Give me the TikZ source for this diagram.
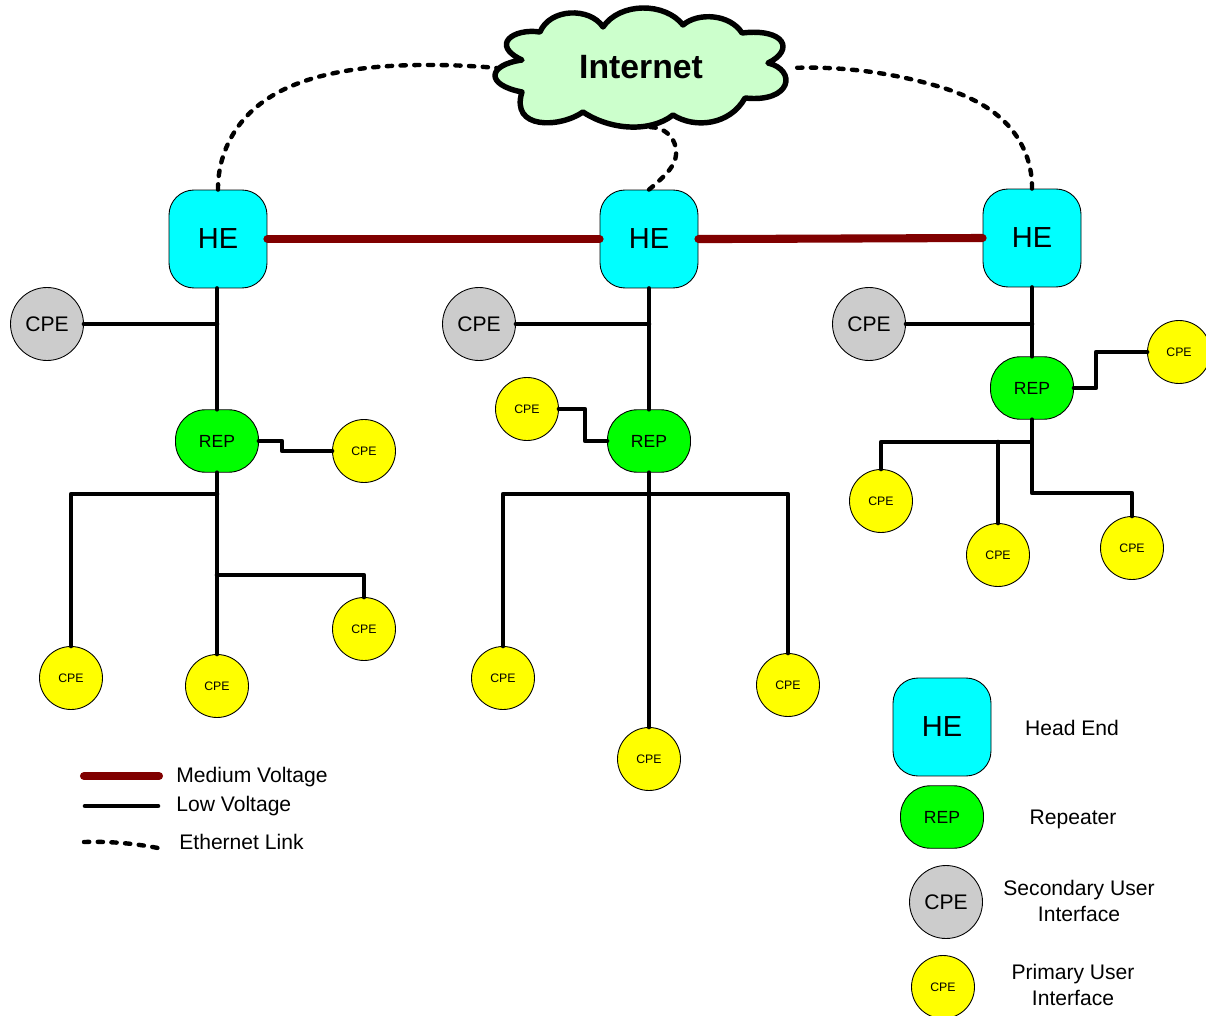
\documentclass[tikz,border=0pt]{standalone}
\usepackage{fontspec}
\setmainfont{Liberation Sans}
\usetikzlibrary{calc,positioning,hobby}

\definecolor{mvred}{HTML}{800000}
\definecolor{cloudgreen}{HTML}{CCFFCC}
\definecolor{hecyan}{HTML}{00FFFF}
\definecolor{repgreen}{HTML}{00FF00}
\definecolor{cpeyellow}{HTML}{FFFF00}
\definecolor{cpegrey}{HTML}{CCCCCC}
\tikzset{
  henode/.style={draw=black,line width=0.5pt,fill=hecyan,rounded corners=0.5cm,minimum size=1.96cm,inner sep=0,font=\fontsize{16.5}{18}\selectfont},
  repnode/.style={draw=black,line width=0.5pt,fill=repgreen,rounded corners=0.6cm,minimum width=1.66cm,minimum height=1.25cm,inner sep=0,font=\fontsize{10}{12}\selectfont},
  greycpe/.style={draw=black,line width=0.5pt,fill=cpegrey,circle,minimum size=1.46cm,inner sep=0,font=\fontsize{12}{14}\selectfont},
  yellowcpe/.style={draw=black,line width=0.5pt,fill=cpeyellow,circle,minimum size=1.26cm,inner sep=0,font=\fontsize{7}{9}\selectfont},
  mvline/.style={draw=mvred,line width=4.6pt,line cap=round},
  lvline/.style={draw=black,line width=2.6pt,line cap=round,line join=round},
  ethlink/.style={draw=black,line width=2.5pt,line cap=round,dash pattern=on 3pt off 4.8pt},
  legendtext/.style={font=\fontsize{12}{14.5}\selectfont,align=center,inner sep=0},
}

\begin{document}
\begin{tikzpicture}[x=0.02cm,y=-0.02cm,use Hobby shortcut]

\useasboundingbox (0,0) rectangle (1206,1016);

% the cloud
\draw[black,line width=3.1pt,line join=round,fill=cloudgreen]
  (540,32) .. controls (550,8) and (590,7) .. (603,27)
  .. controls (620,2) and (665,2) .. (683,25)
  .. controls (698,12) and (730,14) .. (742,33)
  .. controls (785,28) and (795,50) .. (768,63)
  .. controls (797,70) and (792,103) .. (745,98)
  .. controls (730,125) and (695,129) .. (673,115)
  .. controls (650,133) and (610,130) .. (583,112)
  .. controls (560,128) and (510,130) .. (522,92)
  .. controls (485,85) and (487,65) .. (522,60)
  .. controls (490,45) and (513,28) .. (540,32) -- cycle;
\node[font=\fontsize{19.2}{24}\selectfont\bfseries] (internet) at (641,67) {Internet};

\node[henode] (he1) at (218,239) {HE};
\node[henode] (he2) at (649,239) {HE};
\node[henode] (he3) at (1032,238) {HE};

\node[greycpe] (gr1) at (47,324) {CPE};
\node[greycpe] (gr2) at (479,324) {CPE};
\node[greycpe] (gr3) at (869,324) {CPE};

\node[repnode] (rep1) at (217,441) {REP};
\node[repnode] (rep2) at (649,441) {REP};
\node[repnode] (rep3) at (1032,388) {REP};

\node[yellowcpe] (a0) at (364,451) {CPE};
\node[yellowcpe] (a1) at (71,678) {CPE};
\node[yellowcpe] (a2) at (217,686) {CPE};
\node[yellowcpe] (a3) at (364,629) {CPE};

\node[yellowcpe] (b0) at (527,409) {CPE};
\node[yellowcpe] (b1) at (503,678) {CPE};
\node[yellowcpe] (b2) at (649,759) {CPE};
\node[yellowcpe] (b3) at (788,685) {CPE};

\node[yellowcpe] (c0) at (1179,352) {CPE};
\node[yellowcpe] (c1) at (881,501) {CPE};
\node[yellowcpe] (c2) at (998,555) {CPE};
\node[yellowcpe] (c3) at (1132,548) {CPE};

\path
  (497,68) coordinate (e0)
  (790,68) coordinate (e1)
  (645,128) coordinate (e2)
  (420,65) coordinate (l0)
  (330,74) coordinate (l1)
  (245,118) coordinate (l2)
  (930,84) coordinate (r1)
  (1012,130) coordinate (r2)
  (662,178) coordinate (m0)
  (676,155) coordinate (m1);
\draw[ethlink] (he1.north) .. (l2) .. (l1) .. (l0) .. (e0);
\draw[ethlink] (he3.north) .. (r2) .. (r1) .. (e1);
\draw[ethlink] (he2.north) .. (m0) .. (m1) .. (e2);

\draw[mvline] (he1.east) -- (he2.west);
\draw[mvline] (he2.east) -- ++(24,0) -- (he3.west);

\draw[lvline] (he1.south -| rep1.north) -- (rep1.north);
\draw[lvline] (he2.south) -- (rep2.north);
\draw[lvline] (he3.south) -- (rep3.north);
\draw[lvline] (gr1.east) -- (gr1.east -| rep1);
\draw[lvline] (gr2.east) -- (gr2.east -| he2);
\draw[lvline] (gr3.east) -- (gr3.east -| he3);

\draw[lvline] (rep1.east) -- (282,441) -- (282,451) -- (a0.west);
\draw[lvline] (rep1.south) -- (a2.north);
\draw[lvline] (217,494) -- (71,494) -- (a1.north);
\draw[lvline] (217,575) -- (364,575) -- (a3.north);

\draw[lvline] (b0.east) -- (585,409) -- (585,441) -- (rep2.west);
\draw[lvline] (rep2.south) -- (b2.north);
\draw[lvline] (b1.north) -- (503,494) -- (788,494) -- (b3.north);

\draw[lvline] (rep3.east) -- (1096,388) -- (1096,352) -- (c0.west);
\draw[lvline] (rep3.south) -- (1032,442) -- (881,442) -- (c1.north);
\draw[lvline] (998,442) -- (c2.north);
\draw[lvline] (1032,442) -- (1032,493) -- (1132,493) -- (c3.north);

% legend on the left
\path
  (84,776) coordinate (k0)
  (159,776) coordinate (k1)
  (85,806) coordinate (k2)
  (158,806) coordinate (k3)
  (84,842) coordinate (k4)
  (122,843) coordinate (k5)
  (158,848) coordinate (k6);
\draw[mvline] (k0) -- (k1);
\draw[lvline] (k2) -- (k3);
\draw[ethlink] (k4) .. (k5) .. (k6);
\node[legendtext,anchor=west] (t1) at (176,777) {Medium Voltage};
\node[legendtext,anchor=west] (t2) at (176,806) {Low Voltage};
\node[legendtext,anchor=west] (t3) at (179,842) {Ethernet Link};

% legend on the right
\node[henode] (he4) at (942,727) {HE};
\node[repnode] (rep4) at (942,817) {REP};
\node[greycpe] (gr4) at (946,902) {CPE};
\node[yellowcpe] (d0) at (943,987) {CPE};
\node[legendtext] (t4) at (1072,728) {Head End};
\node[legendtext] (t5) at (1073,819) {Repeater};
\node[legendtext] (t6) at (1079,901) {Secondary User\\Interface};
\node[legendtext] (t7) at (1073,985) {Primary User\\Interface};

\end{tikzpicture}
\end{document}
